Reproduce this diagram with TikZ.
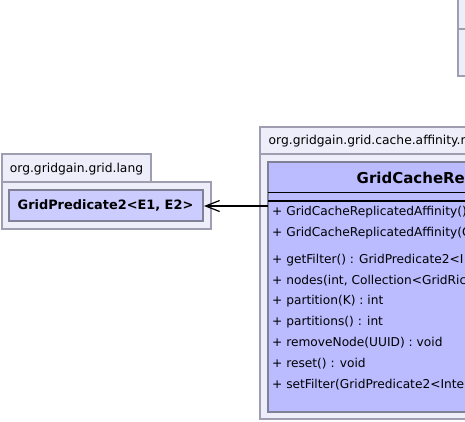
\documentclass[tikz,border=0pt]{standalone}
\usepackage{fontspec}
\setmainfont{DejaVu Sans}
\usetikzlibrary{arrows.meta}
\definecolor{pkgfill}{RGB}{238,238,251}
\definecolor{pkgline}{RGB}{158,158,176}
\definecolor{clsfill}{RGB}{204,204,255}
\definecolor{clsfillB}{RGB}{187,187,255}
\definecolor{clsline}{RGB}{128,128,150}
\tikzset{
  pkgbox/.style={draw=pkgline, fill=pkgfill, line width=1.2pt},
  clsbox/.style={draw=clsline, fill=clsfill, line width=1.2pt},
  txt/.style={inner sep=0pt, font=\fontsize{12.2}{14}\selectfont},
  meth/.style={txt, anchor=west},
  depend/.style={line width=1.2pt, -{Straight Barb[length=14pt,width=11pt,line width=1.2pt]}}
}
\begin{document}
\begin{tikzpicture}[x=1pt,y=-1pt]
\useasboundingbox (0,0) rectangle (465,421);
\clip (0,0) rectangle (465,421);
\fill[white] (0,0) rectangle (465,421);
% top right package (cropped)
\draw[pkgbox] (458,-5) rectangle (480,29);
\draw[pkgbox] (458,29) rectangle (480,76);
% left package
\draw[pkgbox] (2,154) rectangle (151,182);
\draw[pkgbox] (2,182) rectangle (211,229);
\node[txt, font=\fontsize{12.3}{14}\selectfont] (lpkg) at (76.5,169) {org.gridgain.grid.lang};
\draw[clsbox] (9,190) rectangle (203,221);
\node[txt, font=\fontsize{12.9}{15}\selectfont\bfseries] (pred) at (105.5,206) {GridPredicate2<E1, E2>};
\coordinate (predE) at (204,206);
% right package
\draw[pkgbox] (260,127) rectangle (480,154);
\draw[pkgbox] (260,154) rectangle (480,419);
\node[txt, anchor=west, font=\fontsize{12.3}{14}\selectfont] (rpkg) at (268.5,141) {org.gridgain.grid.cache.affinity.r};
\draw[clsbox, fill=clsfillB] (268,162) rectangle (480,412);
\node[txt, anchor=west, font=\fontsize{15}{17}\selectfont\bfseries] (cname) at (356.5,177.5) {GridCacheRe};
\draw[line width=1.2pt] (268,192.5) -- (480,192.5);
\draw[line width=1.2pt] (268,201) -- (480,201);
\coordinate (clsW) at (268,206);
\node[meth] (m1) at (272,212.5) {+ GridCacheReplicatedAffinity()};
\node[meth] (m2) at (272,233) {+ GridCacheReplicatedAffinity(C};
\node[meth] (m3) at (272,260) {+ getFilter() : GridPredicate2<I};
\node[meth] (m4) at (272,280.7) {+ nodes(int, Collection<GridRic};
\node[meth] (m5) at (272,301.4) {+ partition(K) : int};
\node[meth] (m6) at (272,322.1) {+ partitions() : int};
\node[meth] (m7) at (272,342.8) {+ removeNode(UUID) : void};
\node[meth] (m8) at (272,363.5) {+ reset() : void};
\node[meth] (m9) at (272,384.2) {+ setFilter(GridPredicate2<Inte};
% dependency
\draw[depend] (clsW) -- (predE);
\end{tikzpicture}
\end{document}
